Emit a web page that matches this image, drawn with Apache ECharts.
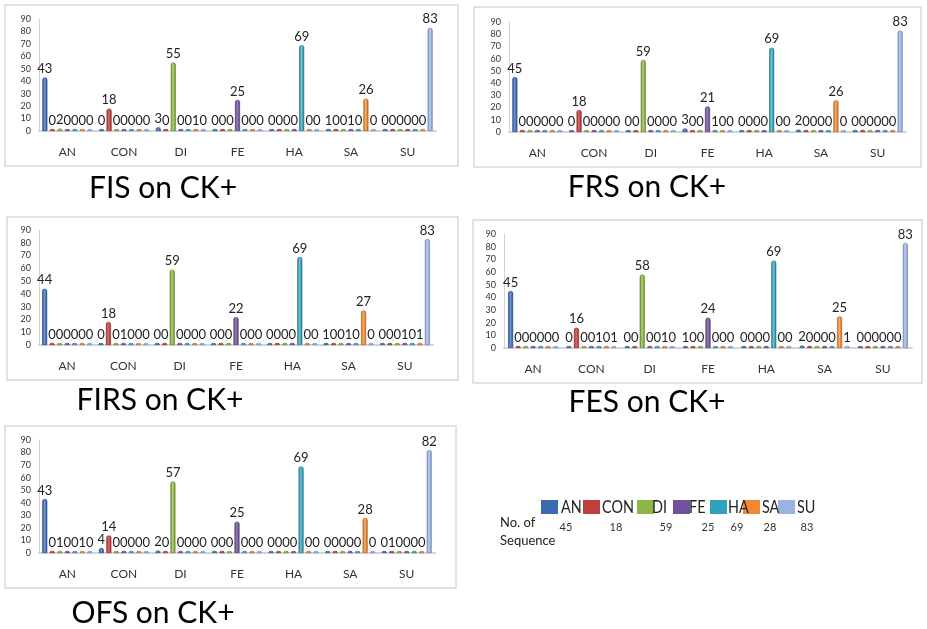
<!DOCTYPE html>
<html><head><meta charset="utf-8">
<script src="https://cdn.jsdelivr.net/npm/echarts@6/dist/echarts.min.js"></script>
<style>html,body{margin:0;padding:0;background:#fff}#c{width:927px;height:629px}</style>
</head><body><div id="c"></div>
<script>
// x-axis categories (true expression) and series (predicted expression)
const categories = ['AN','CON','DI','FE','HA','SA','SU'];
const seriesNames = ['AN','CON','DI','FE','HA','SA','SU'];
const yTickValues = [0,10,20,30,40,50,60,70,80,90];

// rows: one per category; columns: series AN..SU
const fisRows = [
  [43,0,2,0,0,0,0],
  [0,18,0,0,0,0,0],
  [3,0,55,0,0,1,0],
  [0,0,0,25,0,0,0],
  [0,0,0,0,69,0,0],
  [1,0,0,1,0,26,0],
  [0,0,0,0,0,0,83]
];
const frsRows = [
  [45,0,0,0,0,0,0],
  [0,18,0,0,0,0,0],
  [0,0,59,0,0,0,0],
  [3,0,0,21,1,0,0],
  [0,0,0,0,69,0,0],
  [2,0,0,0,0,26,0],
  [0,0,0,0,0,0,83]
];
const firsRows = [
  [44,0,0,0,0,0,0],
  [0,18,0,1,0,0,0],
  [0,0,59,0,0,0,0],
  [0,0,0,22,0,0,0],
  [0,0,0,0,69,0,0],
  [1,0,0,1,0,27,0],
  [0,0,0,1,0,1,83]
];
const fesRows = [
  [45,0,0,0,0,0,0],
  [0,16,0,0,1,0,1],
  [0,0,58,0,0,1,0],
  [1,0,0,24,0,0,0],
  [0,0,0,0,69,0,0],
  [2,0,0,0,0,25,1],
  [0,0,0,0,0,0,83]
];
const ofsRows = [
  [43,0,1,0,0,1,0],
  [4,14,0,0,0,0,0],
  [2,0,57,0,0,0,0],
  [0,0,0,25,0,0,0],
  [0,0,0,0,69,0,0],
  [0,0,0,0,0,28,0],
  [0,1,0,0,0,0,82]
];
const panelTitles = ['FIS on CK+','FRS on CK+','FIRS on CK+','FES on CK+','OFS on CK+'];
const legendCounts = [45,18,59,25,69,28,83];
const legendTitleLines = ['No. of','Sequence'];

const panelData = [fisRows, frsRows, firsRows, fesRows, ofsRows];

// ---------- layout / style ----------
const FONT = 'Lato, "Open Sans", sans-serif';
const baseColors = ['#3A6BB0','#BE3F3C','#8DB646','#71519A','#31A2BE','#F08A32','#9AB3E0'];
const darkColors = ['#224A85','#8A2523','#5F8429','#4E3570','#1C7388','#B85F14','#6C86B8'];
const lightColors = ['#6D97D6','#DE6F6B','#B5D676','#9A7EC2','#6BC5DC','#FBB171','#C4D4F2'];
const grids = [
  {left:39, top:19, width:397, height:112},
  {left:509, top:22, width:397, height:110},
  {left:39, top:230, width:394, height:115},
  {left:504, top:234, width:408, height:114},
  {left:39, top:440, width:396, height:113}
];
const boxes = [
  {x:5, y:5, w:453, h:161},
  {x:474, y:7, w:447, h:160},
  {x:7, y:217, w:451, h:163},
  {x:473, y:220, w:449, h:163},
  {x:5, y:426, w:451, h:162}
];
const titlePos = [[163,188],[647,187],[160,400],[647,402],[153,613]];
const legendItemX = [541,583,637,673,710,743,778];
const legendTextX = [561,602,652,689,728,762,797];
const legendCountX = [566,616,666,708,737,770,807];

const chart = echarts.init(document.getElementById('c'), null, {renderer:'canvas'});

const xAxes = [], yAxes = [], series = [], graphics = [];
grids.forEach((g, p) => {
  xAxes.push({
    type:'category', gridIndex:p, data:categories,
    axisLine:{show:true, lineStyle:{color:'#d4d4d4', width:2}},
    axisTick:{show:false},
    axisLabel:{fontSize:12, color:'#333', margin:15, fontFamily:FONT}
  });
  yAxes.push({
    type:'value', gridIndex:p, min:yTickValues[0], max:yTickValues[yTickValues.length-1],
    interval:yTickValues[1]-yTickValues[0],
    axisLine:{show:true, lineStyle:{color:'#d4d4d4'}},
    axisTick:{show:false},
    splitLine:{show:false},
    axisLabel:{fontSize:9, color:'#333', margin:8, fontFamily:FONT}
  });
  const rows = panelData[p];
  seriesNames.forEach((name, s) => {
    series.push({
      type:'bar', name:name, xAxisIndex:p, yAxisIndex:p,
      data: rows.map(r => r[s]),
      barWidth:5, barGap:'50%', barMinHeight:2,
      itemStyle:{
        color:new echarts.graphic.LinearGradient(0,0,1,0,[
          {offset:0,color:darkColors[s]},{offset:0.45,color:lightColors[s]},{offset:1,color:darkColors[s]}
        ]),
        borderColor:darkColors[s], borderWidth:0.6, borderRadius:[2,2,0,0]
      },
      label:{show:true, position:'top', distance:2, fontSize:13, color:'#222', fontFamily:FONT},
      animation:false
    });
  });
  const b = boxes[p];
  graphics.push({type:'rect', shape:{x:b.x, y:b.y, width:b.w, height:b.h},
    style:{fill:'none', stroke:'#d9d9d9', lineWidth:1.5}, z:-1});
  graphics.push({type:'text', x:titlePos[p][0], y:titlePos[p][1],
    style:{text:panelTitles[p], fontSize:30, fontFamily:FONT, fill:'#000', align:'center', verticalAlign:'middle'}});
});

// legend names (narrowed, Calibri-like)
seriesNames.forEach((n, i) => {
  graphics.push({type:'text', x:legendTextX[i], y:507, scaleX:0.8, z:10,
    style:{text:n, fontSize:18, fontFamily:FONT, fill:'#222', align:'left', verticalAlign:'middle'}});
});
legendCounts.forEach((v, i) => {
  graphics.push({type:'text', x:legendCountX[i], y:527,
    style:{text:String(v), fontSize:11, fontFamily:FONT, fill:'#333', align:'center', verticalAlign:'middle'}});
});
legendTitleLines.forEach((t, i) => {
  graphics.push({type:'text', x:500, y:523 + i*18,
    style:{text:t, fontSize:13, fontFamily:FONT, fill:'#222', align:'left', verticalAlign:'middle'}});
});

const legends = seriesNames.map((n, i) => ({
  left:legendItemX[i], top:500, orient:'horizontal', icon:'rect',
  itemWidth:17, itemHeight:14, itemGap:0, padding:0, selectedMode:false,
  formatter:() => '',
  textStyle:{fontSize:1, padding:0},
  data:[{name:n, itemStyle:{color:baseColors[i], borderWidth:0}}]
}));

chart.setOption({
  animation:false,
  backgroundColor:'#fff',
  grid:grids.map(g => Object.assign({containLabel:false}, g)),
  xAxis:xAxes, yAxis:yAxes, series:series,
  legend:legends,
  graphic:graphics
});
</script>
</body></html>
